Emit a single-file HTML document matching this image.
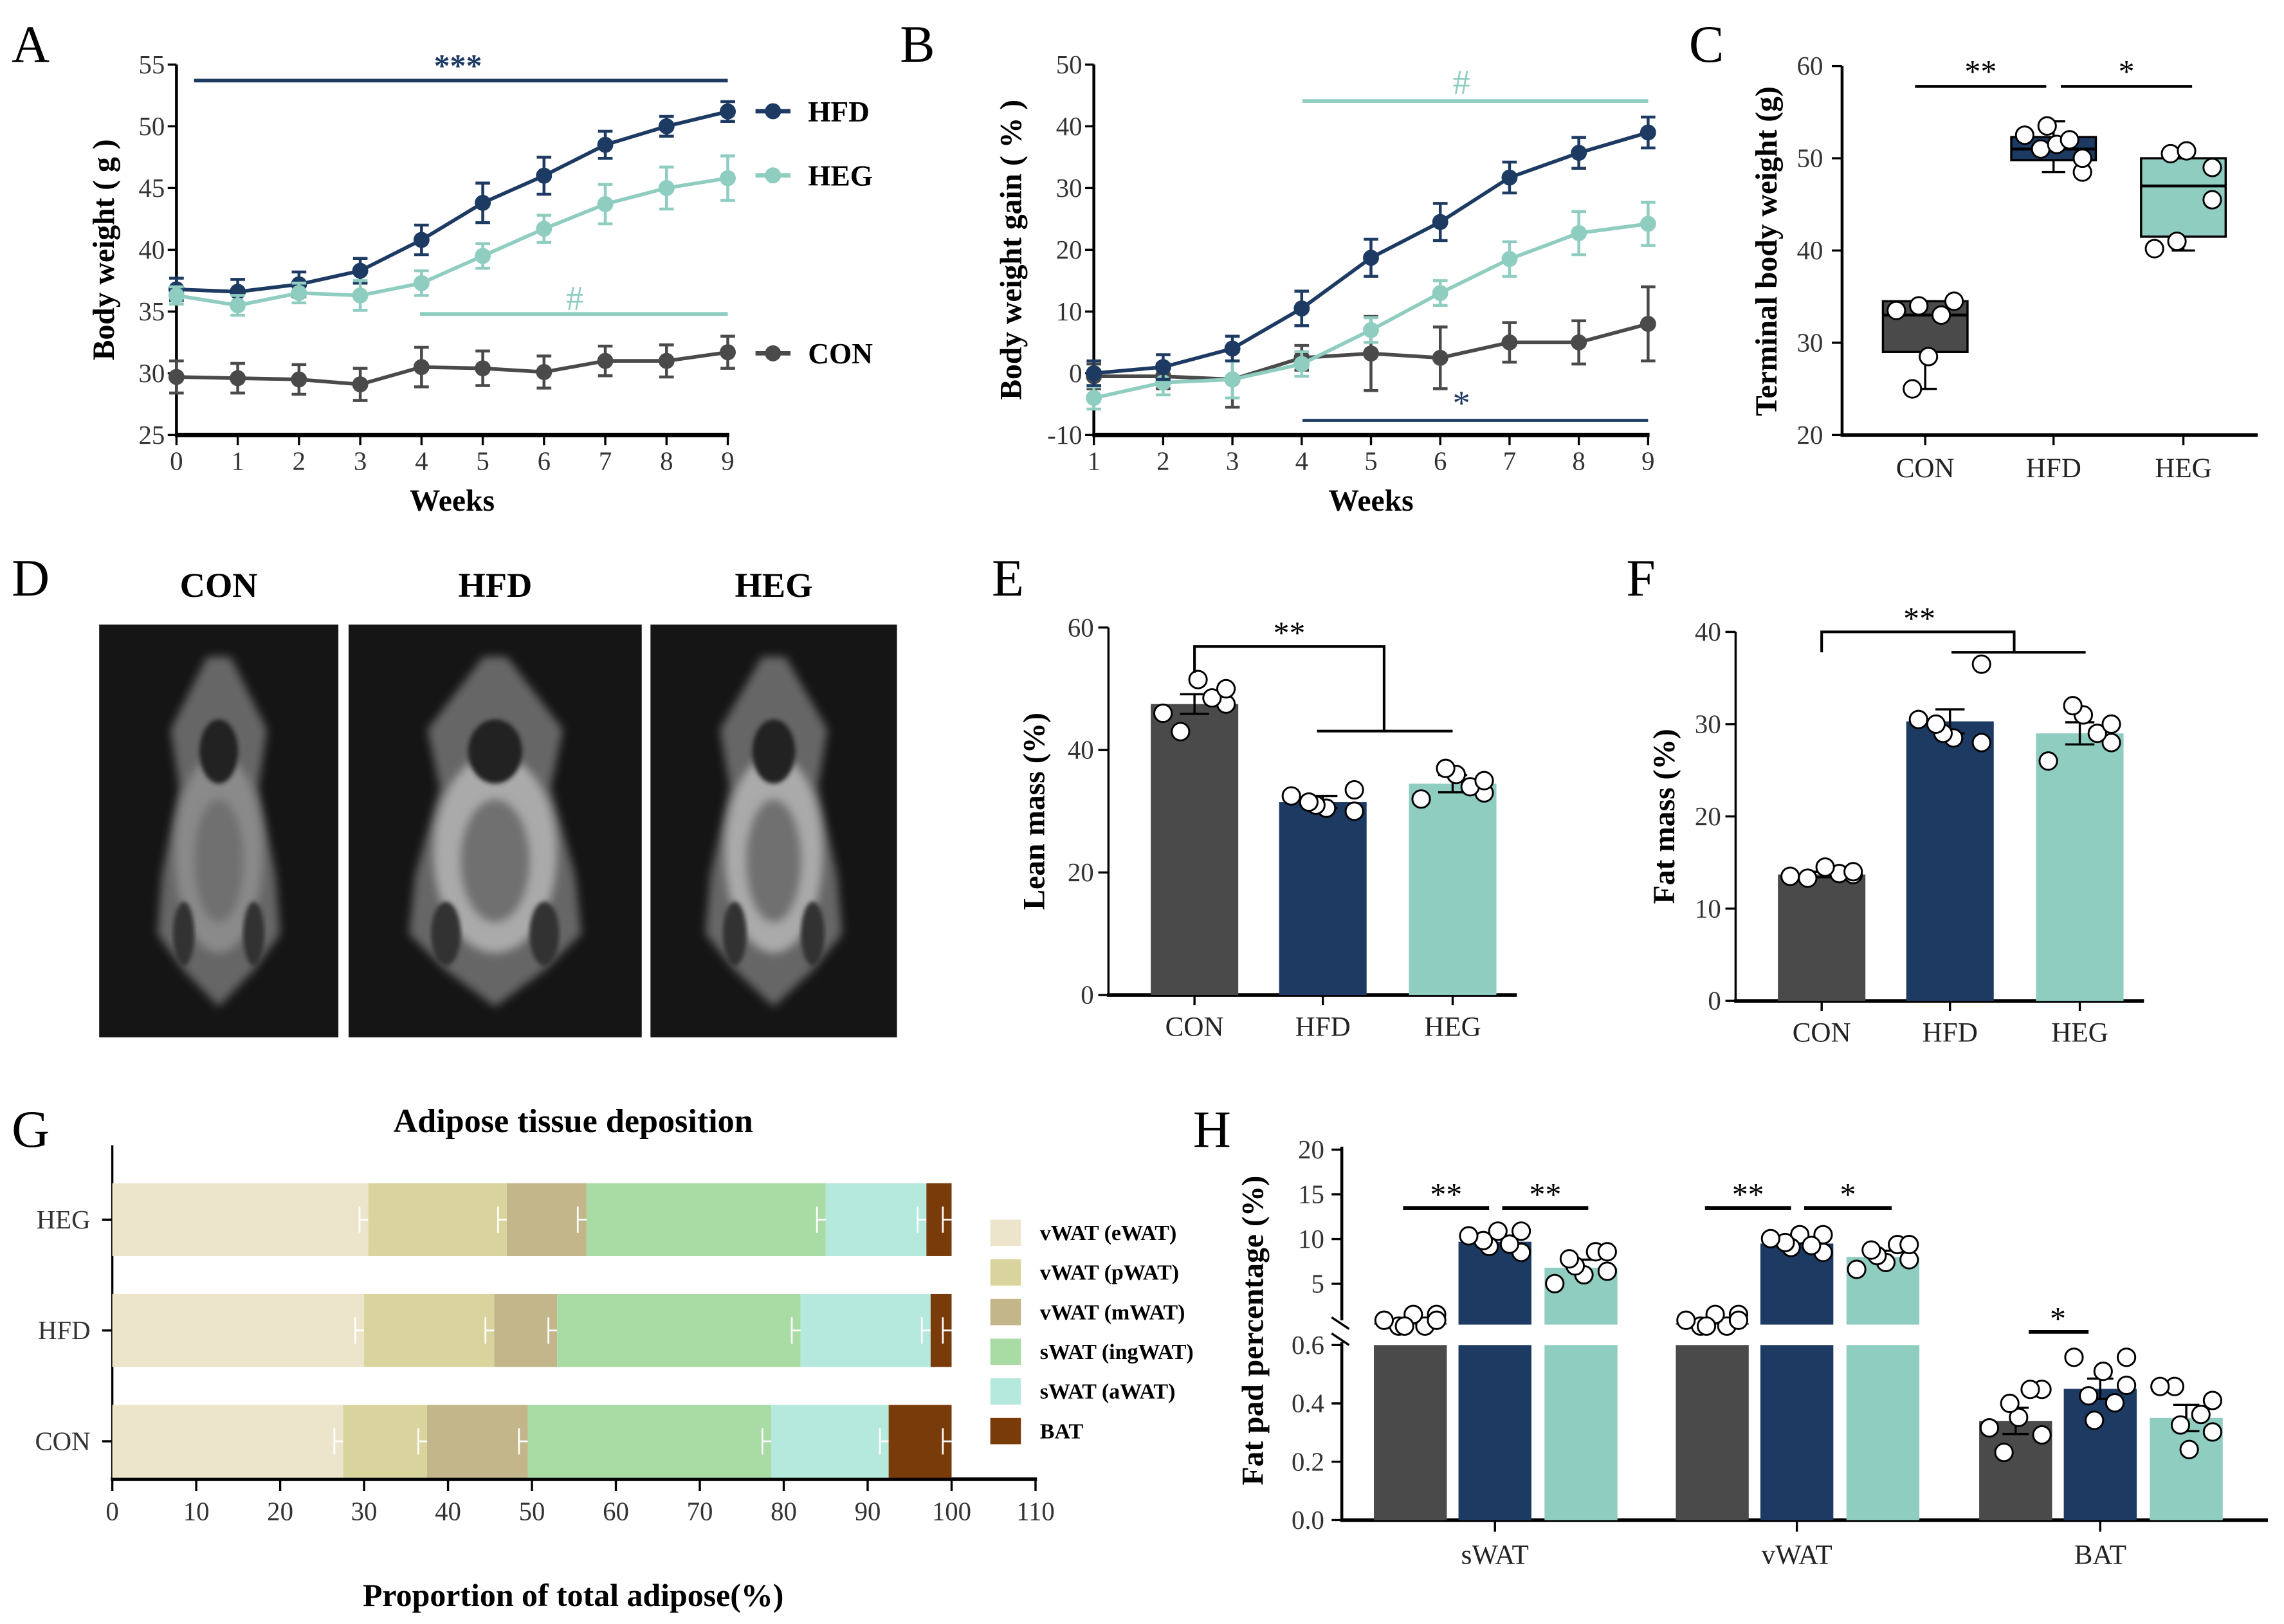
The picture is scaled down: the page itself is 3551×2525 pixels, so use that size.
<!DOCTYPE html>
<html><head><meta charset="utf-8"><style>
html,body{margin:0;padding:0;background:#fff;}
svg{display:block;font-family:"Liberation Serif",serif;}
</style></head><body>
<svg id="fig" xmlns="http://www.w3.org/2000/svg" width="3551" height="2525" viewBox="0 0 1566 1113">
<defs>
<filter id="blur" x="-20%" y="-20%" width="140%" height="140%"><feGaussianBlur stdDeviation="3"/></filter>
<filter id="blur2"><feGaussianBlur stdDeviation="1.5"/></filter>
</defs>
<g id="root"></g>
</svg>
<script>
// ---- Panel A data
const weeksA=[0,1,2,3,4,5,6,7,8,9];
const aHFD=[36.8,36.6,37.2,38.3,40.8,43.8,46.0,48.5,50.0,51.2];
const aHFDerr=[0.9,1.0,1.0,1.0,1.2,1.6,1.5,1.1,0.8,0.8];
const aHEG=[36.3,35.5,36.5,36.3,37.3,39.5,41.7,43.7,45.0,45.8];
const aHEGerr=[0.7,0.8,0.8,1.2,1.0,1.0,1.1,1.6,1.7,1.8];
const aCON=[29.7,29.6,29.5,29.1,30.5,30.4,30.1,31.0,31.0,31.7];
const aCONerr=[1.3,1.2,1.2,1.3,1.6,1.4,1.3,1.2,1.3,1.3];
const aYTicks=[25,30,35,40,45,50,55];
// ---- Panel B data
const weeksB=[1,2,3,4,5,6,7,8,9];
const bHFD=[0,1,4,10.5,18.7,24.5,31.7,35.7,39];
const bHFDerr=[2,2,2,2.8,3,3,2.5,2.5,2.5];
const bHEG=[-4,-1.5,-1,1.5,7,13,18.5,22.7,24.2];
const bHEGerr=[1.8,2,3,2,2,2,2.8,3.5,3.5];
const bCON=[-0.5,-0.5,-1,2.5,3.2,2.5,5,5,8];
const bCONerr=[2,2,4.5,2,6,5,3.2,3.5,6];
const bYTicks=[-10,0,10,20,30,40,50];
// ---- Panel C data (box plots)
const cGroups=['CON','HFD','HEG'];
const cMin=[25,48.5,40];
const cQ1=[29,49.8,41.5];
const cMed=[33,51,47];
const cQ3=[34.5,52.3,50];
const cMax=[34.5,54,51];
const cPtsCON=[25,28.5,33,33.5,34,34.5];
const cPtsHFD=[48.5,50,51,51.5,52,52.5,53.5];
const cPtsHEG=[40.2,41,45.5,49,50.5,50.8];
const cYTicks=[20,30,40,50,60];
// ---- Panel E
const eVals=[47.5,31.5,34.5];
const eErr=[1.6,1.0,1.4];
const ePtsCON=[43,46,47.5,48.5,50,51.5];
const ePtsHFD=[30,30.5,31,31.5,32.5,33.5];
const ePtsHEG=[32,33,34,35,36,37];
const eYTicks=[0,20,40,60];
// ---- Panel F
const fVals=[13.7,30.3,29.0];
const fErr=[0.3,1.3,1.2];
const fPtsCON=[13.3,13.5,13.7,13.8,14,14.5];
const fPtsHFD=[28,28.5,29,30,30.5,36.5];
const fPtsHEG=[26,28,29,30,31,32];
const fYTicks=[0,10,20,30,40];
// ---- Panel G
const gRows=['HEG','HFD','CON'];
const gSeries=['vWAT (eWAT)','vWAT (pWAT)','vWAT (mWAT)','sWAT (ingWAT)','sWAT (aWAT)','BAT'];
const gHEG=[30.5,16.5,9.5,28.5,12,3];
const gHFD=[30,15.5,7.5,29,15.5,2.5];
const gCON=[27.5,10,12,29,14,7.5];
const gXTicks=[0,10,20,30,40,50,60,70,80,90,100,110];
// ---- Panel H
const hCats=['sWAT','vWAT','BAT'];
const hCON=[2,2,0.34];
const hHFD=[9.7,9.5,0.45];
const hHEG=[6.8,8.0,0.35];
const hCONerr=[0.2,0.3,0.045];
const hHFDerr=[0.6,0.5,0.035];
const hHEGerr=[0.9,0.7,0.045];
const hUpperTicks=[5,10,15,20];
const hLowerTicks=[0,0.2,0.4,0.6];

const C_HFD='#1d3a63',C_HEG='#8fcdc1',C_CON='#4a4a4a';
const JIT=[-0.4,0.9,-0.9,0.1,0.9,-0.2,0.5];
const NS='http://www.w3.org/2000/svg';
const root=document.getElementById('root');
function el(tag,attrs,parent,name,inter){const e=document.createElementNS(NS,tag);for(const k in attrs)e.setAttribute(k,attrs[k]);


(parent||root).appendChild(e);return e;}
function txt(x,y,s,size,opt,name){opt=opt||{};const t=el('text',{x:x,y:y,'font-size':size,'text-anchor':opt.anchor||'middle',fill:opt.fill||'#000','font-weight':opt.bold?'bold':'normal',transform:opt.rot?`rotate(-90 ${x} ${y})`:''},opt.parent,name||'label');t.textContent=s;return t;}
function line(x1,y1,x2,y2,stroke,w,name){return el('line',{x1:x1,y1:y1,x2:x2,y2:y2,stroke:stroke||'#000','stroke-width':w||1.5},null,name||'line');}
function lin(d0,d1,r0,r1){return v=>r0+(v-d0)*(r1-r0)/(d1-d0);}

[['A',8,42],['B',617,42],['C',1158,42],['D',8,408],['E',680,408],['F',1115,408],['G',8,786],['H',818,786]].forEach(p=>txt(p[1],p[2],p[0],36,{anchor:'start'},'panel-letter-'+p[0].toLowerCase()));

function linePanel(id,xs,series,xS,yS,yTicks,x0,x1,y0,y1,ylab,ylabX){
  line(x0,y0,x0,y1+1,'#000',2,id+'-y-axis');line(x0-1,y1,x1+1,y1,'#000',3,id+'-x-axis');
  yTicks.forEach(t=>{line(x0-6,yS(t),x0,yS(t),'#000',1.5,id+'-y-tick');txt(x0-8,yS(t)+6,String(t),18,{anchor:'end',fill:'#333'},id+'-y-tick-label');});
  xs.forEach(w=>{line(xS(w),y1,xS(w),y1+7,'#000',1.5,id+'-x-tick');txt(xS(w),y1+24,String(w),18,{fill:'#333'},id+'-x-tick-label');});
  txt((x0+x1)/2,y1+52,'Weeks',21,{bold:true},id+'-x-axis-title');
  txt(ylabX,(y0+y1)/2,ylab,21,{bold:true,rot:true},id+'-y-axis-title');
  series.forEach(s=>{
    const pts=xs.map((w,i)=>xS(w)+','+yS(s.v[i])).join(' ');
    el('polyline',{points:pts,fill:'none',stroke:s.c,'stroke-width':2.5},null,id+'-line-'+s.n);
    xs.forEach((w,i)=>{const x=xS(w),yt=yS(s.v[i]+s.e[i]),yb=yS(s.v[i]-s.e[i]);
      line(x,yt,x,yb,s.c,2,id+'-errbar-'+s.n);line(x-5,yt,x+5,yt,s.c,2,id+'-errcap');line(x-5,yb,x+5,yb,s.c,2,id+'-errcap');
      el('circle',{cx:x,cy:yS(s.v[i]),r:5.5,fill:s.c},null,id+'-point-'+s.n);});
  });
}
const axA=lin(0,9,121,499),ayA=lin(25,55,298,44);
linePanel('a',weeksA,[{v:aHFD,e:aHFDerr,c:C_HFD,n:'hfd'},{v:aHEG,e:aHEGerr,c:C_HEG,n:'heg'},{v:aCON,e:aCONerr,c:C_CON,n:'con'}],axA,ayA,aYTicks,121,499,44,298,'Body weight ( g )',78);
line(133,55,499,55,C_HFD,2.5,'a-sig-line-hfd');txt(314,52,'***',22,{fill:C_HFD,bold:true},'a-sig-hfd');
line(288,215,499,215,C_HEG,2.5,'a-sig-line-heg');txt(394,212,'#',24,{fill:C_HEG},'a-sig-heg');
[['HFD',C_HFD,76],['HEG',C_HEG,120],['CON',C_CON,242]].forEach(l=>{line(518,l[2],542,l[2],l[1],3,'a-legend-line');el('circle',{cx:530,cy:l[2],r:5.5,fill:l[1]},null,'a-legend-marker');txt(554,l[2]+7,l[0],20,{anchor:'start',bold:true},'a-legend-'+l[0].toLowerCase());});

const axB=lin(1,9,750,1130),ayB=lin(-10,50,298,44);
linePanel('b',weeksB,[{v:bCON,e:bCONerr,c:C_CON,n:'con'},{v:bHEG,e:bHEGerr,c:C_HEG,n:'heg'},{v:bHFD,e:bHFDerr,c:C_HFD,n:'hfd'}],axB,ayB,bYTicks,750,1130,44,298,'Body weight gain ( % )',700);
line(893,69,1130,69,C_HEG,2.5,'b-sig-line-heg');txt(1002,64,'#',24,{fill:C_HEG},'b-sig-heg');
line(893,288,1130,288,C_HFD,2,'b-sig-line-hfd');txt(1002,284,'*',24,{fill:C_HFD},'b-sig-hfd');

(function(){
  const yS=lin(20,60,298,45),xs=[1320,1408,1497],fills=[C_CON,C_HFD,C_HEG],pts=[cPtsCON,cPtsHFD,cPtsHEG];
  line(1263,45,1263,299,'#000',2,'c-y-axis');line(1262,298,1548,298,'#000',2.5,'c-x-axis');
  cYTicks.forEach(t=>{line(1256,yS(t),1263,yS(t),'#000',1.5,'c-y-tick');txt(1250,yS(t)+6,String(t),18,{anchor:'end',fill:'#333'},'c-y-tick-label');});
  txt(1218,172,'Terminal body weight (g)',21,{bold:true,rot:true},'c-y-axis-title');
  xs.forEach((x,i)=>{
    line(x,298,x,305,'#000',1.5,'c-x-tick');txt(x,327,cGroups[i],19,{fill:'#222'},'c-x-tick-label');
    line(x,yS(cMin[i]),x,yS(cMax[i]),'#000',1.5,'c-whisker');
    line(x-8,yS(cMin[i]),x+8,yS(cMin[i]),'#000',1.5,'c-whisker-cap');line(x-8,yS(cMax[i]),x+8,yS(cMax[i]),'#000',1.5,'c-whisker-cap');
    el('rect',{x:x-29,y:yS(cQ3[i]),width:58,height:yS(cQ1[i])-yS(cQ3[i]),fill:fills[i],stroke:'#000','stroke-width':1.5},null,'c-box-'+cGroups[i].toLowerCase());
    line(x-29,yS(cMed[i]),x+29,yS(cMed[i]),'#000',2,'c-median');
    pts[i].forEach((v,j)=>el('circle',{cx:x+JIT[(j*3+i)%7]*22,cy:yS(v),r:6,fill:'#fff',stroke:'#000','stroke-width':1.3},null,'c-point'));
  });
  line(1313,59,1403,59,'#000',2,'c-sig-line');txt(1358,56,'**',22,{},'c-sig');
  line(1413,59,1503,59,'#000',2,'c-sig-line');txt(1458,56,'*',22,{},'c-sig');
})();

(function(){
  const imgs=[[68,164,'CON',0.55],[239,201,'HFD',1],[446,169,'HEG',0.8]];
  imgs.forEach(im=>{
    const [x,w,lab,fat]=im,cx=x+w/2,g=el('g',{},null,'d-mri-image-'+lab.toLowerCase());
    el('rect',{x:x,y:428,width:w,height:283,fill:'#151515'},g,'d-image-background');
    txt(cx,409,lab,24,{bold:true},'d-image-title-'+lab.toLowerCase());
    const bw=w*(0.3+0.12*fat);
    el('path',{d:`M${cx-8},450 L${cx+8},450 L${cx+bw*0.55},500 L${cx+bw*0.45},540 L${cx+bw*0.65},600 L${cx+bw*0.7},640 L${cx+bw*0.4},665 L${cx},690 L${cx-bw*0.4},665 L${cx-bw*0.7},640 L${cx-bw*0.65},600 L${cx-bw*0.45},540 L${cx-bw*0.55},500 Z`,fill:'#666',filter:'url(#blur)'},g,'d-body-shape');
    el('ellipse',{cx:cx,cy:585,rx:bw*0.5,ry:68,fill:fat>0.7?'#aaa':'#8a8a8a',filter:'url(#blur)'},g,'d-abdomen');
    el('ellipse',{cx:cx,cy:590,rx:bw*0.28,ry:42,fill:'#707070',filter:'url(#blur)'},g,'d-viscera');
    el('ellipse',{cx:cx,cy:515,rx:bw*0.22,ry:22,fill:'#222',filter:'url(#blur2)'},g,'d-thorax');
    el('ellipse',{cx:cx-bw*0.4,cy:640,rx:bw*0.12,ry:22,fill:'#333',filter:'url(#blur2)'},g,'d-leg');
    el('ellipse',{cx:cx+bw*0.4,cy:640,rx:bw*0.12,ry:22,fill:'#333',filter:'url(#blur2)'},g,'d-leg');
  });
})();

function barPanel(id,vals,errs,pts,yS,ticks,x0,x1,ylab,ylabX){
  const xs=[x0+59,x0+147,x0+236],fills=[C_CON,C_HFD,C_HEG],base=yS(0);
  line(x0,yS(ticks[ticks.length-1]),x0,base+1,'#000',1.5,id+'-y-axis');line(x0-1,base,x1,base,'#000',2.5,id+'-x-axis');
  ticks.forEach(t=>{line(x0-7,yS(t),x0,yS(t),'#000',1.5,id+'-y-tick');txt(x0-10,yS(t)+6,String(t),18,{anchor:'end',fill:'#333'},id+'-y-tick-label');});
  txt(ylabX,(yS(ticks[ticks.length-1])+base)/2,ylab,21,{bold:true,rot:true},id+'-y-axis-title');
  xs.forEach((x,i)=>{
    el('rect',{x:x-30,y:yS(vals[i]),width:60,height:base-yS(vals[i]),fill:fills[i]},null,id+'-bar-'+cGroups[i].toLowerCase());
    line(x,base,x,base+7,'#000',1.5,id+'-x-tick');txt(x,base+28,cGroups[i],19,{fill:'#222'},id+'-x-tick-label');
    const yt=yS(vals[i]+errs[i]),yb=yS(vals[i]-errs[i]);
    line(x,yt,x,yb,'#000',1.5,id+'-errbar');line(x-10,yt,x+10,yt,'#000',1.5,id+'-errcap');line(x-10,yb,x+10,yb,'#000',1.5,id+'-errcap');
    pts[i].forEach((v,j)=>el('circle',{cx:x+JIT[(j*2+i)%7]*24,cy:yS(v),r:6,fill:'#fff',stroke:'#000','stroke-width':1.3},null,id+'-point'));
  });
  return xs;
}
const eyS=lin(0,60,682,430);
barPanel('e',eVals,eErr,[ePtsCON,ePtsHFD,ePtsHEG],eyS,eYTicks,760,1040,'Lean mass (%)',716);
el('polyline',{points:'819,461 819,443 949,443 949,501',fill:'none',stroke:'#000','stroke-width':1.8},null,'e-sig-bracket');
line(903,501,996,501,'#000',1.8,'e-sig-bracket-lower');txt(884,441,'**',22,{},'e-sig');
const fyS=lin(0,40,686,433);
barPanel('f',fVals,fErr,[fPtsCON,fPtsHFD,fPtsHEG],fyS,fYTicks,1190,1470,'Fat mass (%)',1148);
el('polyline',{points:'1249,447 1249,433 1381,433 1381,447',fill:'none',stroke:'#000','stroke-width':1.8},null,'f-sig-bracket');
line(1338,447,1430,447,'#000',1.8,'f-sig-bracket-lower');txt(1316,431,'**',22,{},'f-sig');

(function(){
  const xS=lin(0,110,77,710),rowsY=[836,912,988],data=[gHEG,gHFD,gCON];
  const cols=['#ece5cb','#d9d49d','#c3b68a','#a9dba4','#b6e9dd','#7a3b0a'];
  txt(393,776,'Adipose tissue deposition',23,{bold:true},'g-title');
  line(77,785,77,1015,'#000',1.5,'g-y-axis');line(76,1014,711,1014,'#000',2.5,'g-x-axis');
  gXTicks.forEach(t=>{line(xS(t),1014,xS(t),1022,'#000',1.5,'g-x-tick');txt(xS(t),1042,String(t),18,{fill:'#333'},'g-x-tick-label');});
  txt(393,1101,'Proportion of total adipose(%)',22,{bold:true},'g-x-axis-title');
  rowsY.forEach((y,r)=>{
    line(70,y,77,y,'#000',1.5,'g-y-tick');txt(62,y+6,gRows[r],18,{anchor:'end',fill:'#333'},'g-y-tick-label');
    let acc=0;
    data[r].forEach((v,k)=>{el('rect',{x:xS(acc),y:y-25,width:xS(acc+v)-xS(acc),height:50,fill:cols[k]},null,'g-segment-'+gRows[r].toLowerCase()+'-'+k);
      acc+=v;const ex=xS(acc);line(ex-6,y,ex+6,y,'#fff',1.2,'g-errbar');line(ex-6,y-9,ex-6,y+9,'#fff',1.2,'g-errcap');line(ex+6,y-9,ex+6,y+9,'#fff',1.2,'g-errcap');});
  });
  gSeries.forEach((s,k)=>{const y=845+k*27.2;el('rect',{x:679,y:y-9,width:21,height:18,fill:cols[k]},null,'g-legend-swatch');txt(713,y+5,s,15,{anchor:'start',bold:true},'g-legend-entry');});
})();

(function(){
  const up=lin(5,20,880,788),lo=lin(0,0.6,1042,922);
  const groupX=[1025,1232,1440],offs=[-58,0,59],fills=[C_CON,C_HFD,C_HEG],vals=[hCON,hHFD,hHEG],errs=[hCONerr,hHFDerr,hHEGerr];
  line(920,786,920,905,'#000',2,'h-y-axis-upper');line(920,920,920,1043,'#000',2,'h-y-axis-lower');
  line(913,903,925,911,'#000',1.5,'h-axis-break');line(913,914,925,922,'#000',1.5,'h-axis-break');
  hUpperTicks.forEach(t=>{line(913,up(t),920,up(t),'#000',1.5,'h-y-tick');txt(908,up(t)+6,String(t),18,{anchor:'end',fill:'#333'},'h-y-tick-label');});
  hLowerTicks.forEach(t=>{line(913,lo(t),920,lo(t),'#000',1.5,'h-y-tick');txt(908,lo(t)+6,t.toFixed(1),18,{anchor:'end',fill:'#333'},'h-y-tick-label');});
  line(919,1042,1555,1042,'#000',2.5,'h-x-axis');
  txt(866,912,'Fat pad percentage (%)',21,{bold:true,rot:true},'h-y-axis-title');
  groupX.forEach((gx,ci)=>{
    line(gx,1042,gx,1050,'#000',1.5,'h-x-tick');txt(gx,1072,hCats[ci],19,{fill:'#222'},'h-x-tick-label');
    offs.forEach((o,bi)=>{
      const x=gx+o,v=vals[bi][ci],e=errs[bi][ci];
      if(ci<2){el('rect',{x:x-25,y:922,width:50,height:120,fill:fills[bi]},null,'h-bar-lower-'+hCats[ci].toLowerCase());
        const top=v>=5?up(v):up(5)+(5-v)*9;el('rect',{x:x-25,y:top,width:50,height:908-top,fill:fills[bi]},null,'h-bar-upper-'+hCats[ci].toLowerCase());
        const yt=v>=5?up(v+e):top-3,yb=v>=5?up(v-e):top+3;
        line(x,yt,x,yb,'#000',1.5,'h-errbar');line(x-9,yt,x+9,yt,'#000',1.5,'h-errcap');
        for(let j=0;j<7;j++){const pv=v+JIT[(j*3+bi)%7]*e*2.2;const py=v>=5?up(pv):top+2-(j%3)*4;el('circle',{cx:x+JIT[(j*2+bi)%7]*20,cy:py,r:6,fill:'#fff',stroke:'#000','stroke-width':1.3},null,'h-point');}
      }else{
        el('rect',{x:x-25,y:lo(v),width:50,height:1042-lo(v),fill:fills[bi]},null,'h-bar-bat');
        line(x,lo(v+e),x,lo(v-e),'#000',1.5,'h-errbar');line(x-9,lo(v+e),x+9,lo(v+e),'#000',1.5,'h-errcap');line(x-9,lo(v-e),x+9,lo(v-e),'#000',1.5,'h-errcap');
        for(let j=0;j<7;j++){const pv=v+JIT[(j*3+bi)%7]*0.12;el('circle',{cx:x+JIT[(j*2+bi+1)%7]*20,cy:lo(pv),r:6,fill:'#fff',stroke:'#000','stroke-width':1.3},null,'h-point');}
      }
    });
  });
  [[962,1021,'**'],[1030,1089,'**'],[1169,1228,'**'],[1237,1297,'*']].forEach(s=>{line(s[0],828,s[1],828,'#000',2.5,'h-sig-line');txt((s[0]+s[1])/2,826,s[2],22,{},'h-sig');});
  line(1391,913,1432,913,'#000',2.5,'h-sig-line');txt(1411,911,'*',22,{},'h-sig');
})();
</script>
</body></html>
